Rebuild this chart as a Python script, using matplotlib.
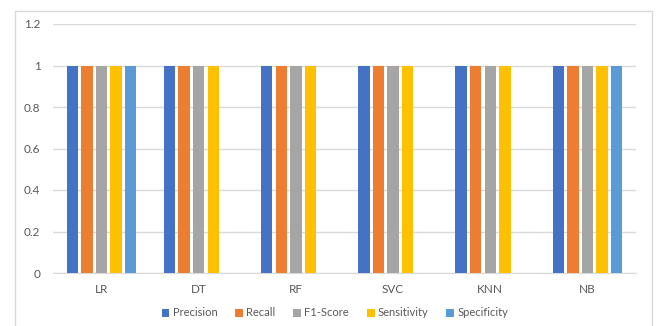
import matplotlib
matplotlib.use("Agg")
import matplotlib.pyplot as plt
from matplotlib.patches import Rectangle
import numpy as np

plt.rcParams['font.family'] = ['Lato', 'DejaVu Sans']

models = ["LR", "DT", "RF", "SVC", "KNN", "NB"]
precision = [1, 1, 1, 1, 1, 1]
recall = [1, 1, 1, 1, 1, 1]
f1_score = [1, 1, 1, 1, 1, 1]
sensitivity = [1, 1, 1, 1, 1, 1]
specificity = [1, 0, 0, 0, 0, 1]

series_names = ["Precision", "Recall", "F1-Score", "Sensitivity", "Specificity"]
series_values = [precision, recall, f1_score, sensitivity, specificity]
colors = ["#4472C4", "#ED7D31", "#A5A5A5", "#FFC000", "#5B9BD5"]

fig = plt.figure(figsize=(6.57, 3.26), dpi=100)
fig.patch.set_facecolor("white")

# chart frame
fig.patches.append(Rectangle((15 / 657, -0.05), (652 - 15) / 657, 1.05 - 11 / 326,
                             transform=fig.transFigure, fill=False,
                             edgecolor="#D9D9D9", linewidth=1.0))

ax = fig.add_axes([53 / 657, (326 - 273) / 326, (636 - 53) / 657, (273 - 24) / 326])

x = np.arange(len(models))
group = 0.75
slot = group / len(series_names)
for i, (name, vals, c) in enumerate(zip(series_names, series_values, colors)):
    offs = -group / 2 + slot * (i + 0.5)
    ax.bar(x + offs, vals, width=slot * 0.78, color=c, label=name, zorder=3)

ax.set_xlim(-0.5, len(models) - 0.5)
ax.set_ylim(0, 1.2)
ax.set_yticks([0, 0.2, 0.4, 0.6, 0.8, 1.0, 1.2])
ax.set_yticklabels(["0", "0.2", "0.4", "0.6", "0.8", "1", "1.2"])
ax.set_xticks(x)
ax.set_xticklabels(models)
ax.grid(axis="y", color="#D9D9D9", linewidth=1.0, zorder=0)
for s in ["top", "right", "left"]:
    ax.spines[s].set_visible(False)
ax.spines["bottom"].set_color("#D9D9D9")
ax.tick_params(axis="both", length=0, colors="#595959", labelsize=8.5)
ax.tick_params(axis="y", pad=9)
ax.tick_params(axis="x", pad=8)

leg = fig.legend(loc="center", bbox_to_anchor=(335 / 657, 1 - 313 / 326), ncol=5,
                 frameon=False, fontsize=8, handlelength=0.7, handleheight=0.7,
                 handletextpad=0.3, columnspacing=1.6)
for t in leg.get_texts():
    t.set_color("#595959")

fig.savefig("out.png", dpi=100, facecolor="white")
